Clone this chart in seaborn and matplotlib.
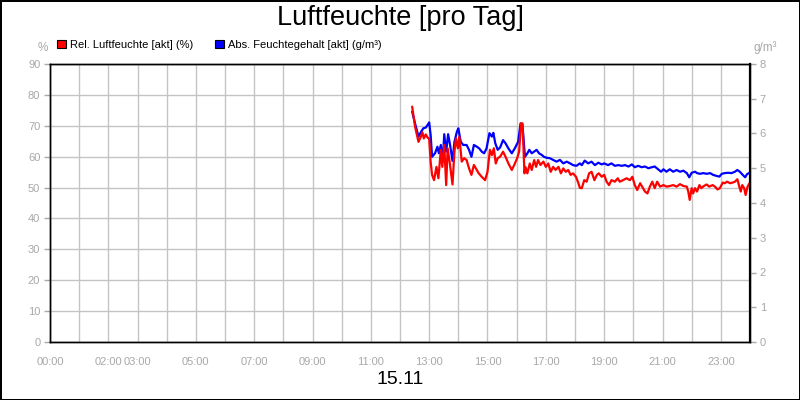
import matplotlib
matplotlib.use("Agg")
import matplotlib.pyplot as plt
import seaborn as sns
import pandas as pd
from matplotlib.patches import Patch

# Rel. Luftfeuchte (%), left axis
rel_times = [
    "12:25", "12:31", "12:38", "12:43", "12:46", "12:49", "12:53", "12:57", "13:00", "13:03",
    "13:06", "13:10", "13:15", "13:19", "13:24", "13:27", "13:31", "13:35", "13:38", "13:42",
    "13:48", "13:52", "13:55", "13:59", "14:02", "14:07", "14:12", "14:17", "14:22", "14:27",
    "14:32", "14:38", "14:42", "14:48", "14:55", "15:00", "15:05", "15:09", "15:13", "15:17",
    "15:21", "15:26", "15:32", "15:37", "15:43", "15:50", "15:55", "16:01", "16:05", "16:09",
    "16:12", "16:16", "16:18", "16:22", "16:27", "16:31", "16:36", "16:40", "16:44", "16:49",
    "16:55", "17:00", "17:05", "17:10", "17:15", "17:20", "17:26", "17:31", "17:36", "17:41",
    "17:46", "17:51", "17:56", "18:02", "18:07", "18:10", "18:14", "18:19", "18:24", "18:29",
    "18:34", "18:40", "18:45", "18:49", "18:55", "19:00", "19:05", "19:10", "19:15", "19:22",
    "19:28", "19:32", "19:39", "19:46", "19:53", "19:58", "20:03", "20:08", "20:14", "20:18",
    "20:24", "20:29", "20:34", "20:39", "20:44", "20:49", "20:55", "21:02", "21:08", "21:15",
    "21:22", "21:29", "21:36", "21:43", "21:50", "21:53", "21:56", "22:00", "22:03", "22:07",
    "22:11", "22:16", "22:20", "22:25", "22:31", "22:36", "22:43", "22:48", "22:53", "22:58",
    "23:04", "23:08", "23:13", "23:19", "23:24", "23:29", "23:34", "23:38", "23:41", "23:44",
    "23:48", "23:51", "23:55", "23:59",
]
rel_values = [
    76.2, 69.7, 64.8, 66.5, 67.9, 65.9, 67.2, 66.1, 65.9, 58.4,
    54.1, 52.4, 56.7, 53.0, 62.2, 56.7, 63.8, 50.8, 62.7, 58.4,
    51.0, 61.6, 65.9, 62.7, 66.5, 58.4, 59.5, 58.9, 56.2, 54.1,
    57.3, 55.7, 54.6, 53.5, 52.4, 55.1, 62.2, 60.5, 62.7, 57.8,
    59.5, 60.0, 61.6, 60.0, 57.8, 55.7, 57.3, 59.5, 61.6, 70.8,
    70.8, 54.6, 56.7, 54.6, 57.8, 55.7, 58.9, 56.7, 58.9, 57.3,
    58.4, 56.7, 57.8, 55.1, 56.7, 55.7, 56.7, 54.6, 56.2, 55.1,
    55.7, 54.1, 54.6, 53.5, 51.4, 49.9, 49.8, 52.4, 51.9, 54.6,
    55.1, 52.4, 54.1, 54.6, 53.5, 54.1, 51.9, 50.8, 52.4, 51.9,
    53.0, 51.9, 52.4, 53.0, 52.4, 53.5, 50.8, 49.2, 51.4, 50.3,
    48.7, 48.1, 50.3, 51.9, 49.8, 51.9, 50.3, 50.8, 50.3, 50.5,
    50.8, 50.3, 51.1, 50.5, 50.3, 48.7, 46.0, 49.8, 48.1, 49.8,
    48.7, 50.8, 49.8, 50.5, 51.0, 50.3, 50.8, 50.3, 49.4, 49.8,
    51.6, 51.4, 51.9, 51.4, 51.6, 51.9, 52.7, 50.3, 48.7, 50.8,
    49.8, 47.6, 50.3, 51.4,
]

# Abs. Feuchtegehalt (g/m³), right axis
abs_times = [
    "12:25", "12:31", "12:38", "12:43", "12:48", "12:53", "12:57", "13:00", "13:03", "13:06",
    "13:12", "13:17", "13:20", "13:24", "13:28", "13:31", "13:35", "13:39", "13:43", "13:48",
    "13:52", "13:57", "14:00", "14:05", "14:10", "14:17", "14:22", "14:27", "14:32", "14:38",
    "14:43", "14:48", "14:53", "14:58", "15:04", "15:09", "15:12", "15:16", "15:21", "15:26",
    "15:32", "15:37", "15:43", "15:50", "15:56", "16:03", "16:08", "16:12", "16:17", "16:22",
    "16:26", "16:31", "16:36", "16:41", "16:46", "16:52", "16:56", "17:02", "17:08", "17:15",
    "17:22", "17:29", "17:36", "17:43", "17:50", "17:56", "18:03", "18:10", "18:14", "18:20",
    "18:27", "18:34", "18:41", "18:48", "18:55", "19:00", "19:08", "19:15", "19:22", "19:29",
    "19:36", "19:43", "19:50", "19:57", "20:03", "20:10", "20:17", "20:24", "20:31", "20:38",
    "20:44", "20:51", "20:57", "21:02", "21:08", "21:15", "21:22", "21:29", "21:36", "21:43",
    "21:50", "21:55", "22:00", "22:07", "22:11", "22:17", "22:24", "22:31", "22:38", "22:44",
    "22:51", "22:57", "23:02", "23:08", "23:15", "23:22", "23:29", "23:34", "23:39", "23:45",
    "23:50", "23:54", "23:59",
]
abs_values = [
    6.63, 6.29, 5.91, 6.04, 6.15, 6.17, 6.25, 6.32, 5.96, 5.33,
    5.43, 5.62, 5.43, 5.67, 5.19, 5.98, 5.48, 5.98, 5.67, 5.21,
    5.76, 6.05, 6.15, 5.76, 5.67, 5.67, 5.53, 5.33, 5.67, 5.62,
    5.57, 5.48, 5.43, 5.57, 6.01, 5.91, 6.02, 5.72, 5.53, 5.60,
    5.81, 5.72, 5.57, 5.43, 5.57, 5.76, 6.29, 6.25, 5.33, 5.43,
    5.53, 5.43, 5.48, 5.53, 5.43, 5.38, 5.33, 5.30, 5.29, 5.24,
    5.19, 5.24, 5.14, 5.19, 5.14, 5.09, 5.07, 5.14, 5.09, 5.22,
    5.14, 5.19, 5.09, 5.16, 5.11, 5.14, 5.09, 5.14, 5.07, 5.09,
    5.07, 5.09, 5.05, 5.11, 5.03, 5.07, 5.03, 5.05, 5.00, 5.03,
    5.05, 4.97, 4.90, 4.97, 4.90, 4.97, 4.90, 4.95, 4.90, 4.93,
    4.86, 4.74, 4.87, 4.90, 4.86, 4.84, 4.86, 4.84, 4.86, 4.81,
    4.78, 4.76, 4.84, 4.86, 4.87, 4.86, 4.90, 4.95, 4.90, 4.81,
    4.74, 4.83, 4.87,
]

hour_labels = ["00:00", "", "02:00", "03:00", "", "05:00", "", "07:00", "", "09:00", "",
               "11:00", "", "13:00", "", "15:00", "", "17:00", "", "19:00", "", "21:00",
               "", "23:00", ""]
rel_ticks = [0, 10, 20, 30, 40, 50, 60, 70, 80, 90]
abs_ticks = [0, 1, 2, 3, 4, 5, 6, 7, 8]


def to_hours(s):
    h, m = s.split(":")
    return int(h) + int(m) / 60


rel_df = pd.DataFrame({"Zeit": [to_hours(t) for t in rel_times], "Rel": rel_values})
abs_df = pd.DataFrame({"Zeit": [to_hours(t) for t in abs_times], "Abs": abs_values})

sns.set_style("white")
plt.rcParams["font.family"] = ["Liberation Sans", "DejaVu Sans"]
plt.rcParams["text.color"] = "black"

GRAY = "#a8a8a8"

fig = plt.figure(figsize=(8, 4), dpi=100)
fig.patch.set_edgecolor("black")
fig.patch.set_linewidth(2)
ax = fig.add_axes([0.0625, 0.145, 0.875, 0.695])
ax2 = ax.twinx()

ax.set_xlim(0, 24)
ax.set_ylim(0, 90)
ax2.set_ylim(0, 8)

# blue drawn inside ax (with the right-axis scale) so red stays on top
sns.lineplot(data=abs_df, x="Zeit", y="Abs", ax=ax, color="#0000ff", linewidth=1.6,
             estimator=None, transform=ax2.transData)
sns.lineplot(data=rel_df, x="Zeit", y="Rel", ax=ax, color="#ff0000", linewidth=1.6,
             estimator=None)

ax.set_xticks(range(25))
ax.set_xticklabels(hour_labels)
ax.set_yticks(rel_ticks)
ax2.set_yticks(abs_ticks)
ax.set_xlabel("")
ax.set_ylabel("")
ax2.set_ylabel("")

ax.grid(True, color="#c4c4c4", linewidth=1)
ax.set_axisbelow(True)
ax2.grid(False)

for a in (ax, ax2):
    a.tick_params(axis="both", colors=GRAY, labelcolor=GRAY, length=4, width=1,
                  labelsize=8, pad=3)
    for sp in a.spines.values():
        sp.set_color("black")
        sp.set_linewidth(1)
ax2.spines["right"].set_linewidth(1.6)
ax.tick_params(axis="x", pad=7)

fig.text(0.5, 1 - 18 / 400, "Luftfeuchte [pro Tag]", ha="center", va="center",
         fontsize=19.5, color="black")
fig.text(0.5, 1 - 380 / 400, "15.11", ha="center", va="center", fontsize=14, color="black")
fig.text(43 / 800, 1 - 48 / 400, "%", ha="center", va="center", fontsize=8.5, color=GRAY)
fig.text(765 / 800, 1 - 48 / 400, "g/m³", ha="center", va="center", fontsize=8.5, color=GRAY)

handles = [Patch(facecolor="#ff0000", edgecolor="black", linewidth=0.8),
           Patch(facecolor="#0000ff", edgecolor="black", linewidth=0.8)]
labels = ["Rel. Luftfeuchte [akt] (%)", "Abs. Feuchtegehalt [akt] (g/m³)"]
fig.legend(handles, labels, loc="center left", bbox_to_anchor=(57 / 800, 1 - 45 / 400),
           ncol=2, frameon=False, fontsize=8, handlelength=0.8, handleheight=0.8,
           handletextpad=0.35, columnspacing=2.0, borderpad=0, borderaxespad=0)

fig.savefig("out.png", dpi=100)
